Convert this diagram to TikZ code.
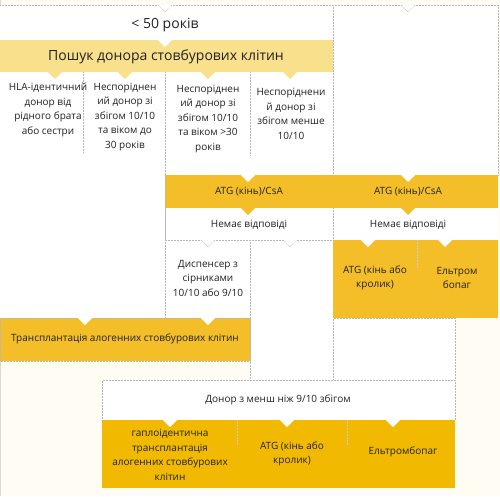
\documentclass[tikz,border=0pt]{standalone}
\usepackage{fontspec}
\setmainfont{Open Sans}
\usepackage{tikz}
\definecolor{paleGold}{RGB}{249, 224, 140}
\definecolor{midGold}{RGB}{243, 190, 40}
\definecolor{deepGold}{RGB}{241, 186, 0}
\definecolor{creamBg}{RGB}{255, 252, 243}
\definecolor{inkGray}{RGB}{34, 34, 34}

\begin{document}
\begin{tikzpicture}[x=1pt,y=-1pt,
    sep/.style={draw=black!28, densely dotted, line width=0.5pt},
    lbl/.style={font=\fontsize{10}{14.5}\selectfont, align=center, text=inkGray, inner sep=0pt},
    big/.style={font=\fontsize{14}{16}\selectfont, text=inkGray, inner sep=0pt}]
    \fill[creamBg] (0,0) rectangle (500,496);
    \useasboundingbox (0,0) rectangle (500,496);
    \draw[black!15, line width=1pt] (0.5,0) -- (0.5,496);
    \foreach \xa/\ya/\xb/\yb in {0/5/333/40, 333/5/498/175, 0/72/333/175, 0/175/165/318,
        165/208/498/240, 165/240/250/318, 250/240/333/380, 333/318/455/380, 102/380/455/420} {
       \fill[white] (\xa,\ya) rectangle (\xb,\yb);
     }
    \fill[paleGold] (0,40) rectangle (333,72);
    \foreach \xa/\ya/\xb/\yb in {165/175/498/208, 333/240/498/318, 0/318/250/361} {
       \fill[midGold] (\xa,\ya) rectangle (\xb,\yb);
     }
    \fill[deepGold] (102,420) rectangle (455,488);
    \draw[sep] (0,5) -- (498,5) -- (498,175);
    \draw[sep] (333,5) -- (333,175) (333,208) -- (333,240);
    \draw[sep] (165,72) -- (165,318) (83,72) -- (83,152) (250,72) -- (250,155);
    \draw[sep] (165,208) -- (165,240) -- (333,240);
    \draw[sep] (250,240) -- (250,380) -- (455,380) -- (455,318) -- (333,318) -- (333,380);
    \draw[sep] (0,318) rectangle (250,361);
    \draw[sep] (102,420) -- (102,380) -- (250,380) (455,380) -- (455,420);
    \draw[sep, draw=black!20] (417,240) -- (417,268) (237,420) -- (237,445) (347,420) -- (347,445);
    \foreach \x/\y in {165/5, 408/5, 208/240, 290/240} {
       \fill[white] (\x-7,\y-0.5) -- (\x,\y+6.5) -- (\x+7,\y-0.5) -- cycle;
       \draw[sep] (\x-7,\y) -- (\x,\y+7) -- (\x+7,\y);
     }
    \foreach \x/\y in {165/40, 248/175, 408/175, 368/240, 445/240, 85/318, 208/318, 170/420, 287/420, 393/420} {
       \fill[white] (\x-7,\y) -- (\x,\y+7) -- (\x+7,\y) -- cycle;
     }
    \foreach \x in {55,125,208,290} {
       \fill[paleGold] (\x-7,72) -- (\x,79) -- (\x+7,72) -- cycle;
     }
    \foreach \x in {248,408} {
       \fill[midGold] (\x-7,208) -- (\x,215) -- (\x+7,208) -- cycle;
     }
    \node[big] (young) at (165,25) {< 50 років};
    \node[big] (search) at (166,57) {Пошук донора стовбурових клітин};
    \node[lbl] (sibling) at (48,110) {HLA-ідентичний\\донор від\\рідного брата\\або сестри};
    \node[lbl] (unrelYoung) at (125,117) {Неспоріднен\\ий донор зі\\збігом 10/10\\та віком до\\30 років};
    \node[lbl] (unrelOld) at (208,119) {Неспоріднен\\ий донор зі\\збігом 10/10\\та віком >30\\років};
    \node[lbl] (unrelLess) at (291,114) {Неспоріднени\\й донор зі\\збігом менше\\10/10};
    \node[lbl] (atgLeft) at (249,192) {ATG (кінь)/CsA};
    \node[lbl] (atgRight) at (408,192) {ATG (кінь)/CsA};
    \node[lbl] (noRespLeft) at (249,225) {Немає відповіді};
    \node[lbl] (noRespRight) at (408,225) {Немає відповіді};
    \node[lbl] (dispenser) at (208,278) {Диспенсер з\\сірниками\\10/10 або 9/10};
    \node[lbl] (atgHorse) at (375,278) {ATG (кінь або\\кролик)};
    \node[lbl] (eltromSplit) at (457,278) {Ельтром\\бопаг};
    \node[lbl] (transplant) at (125,339) {Трансплантація алогенних стовбурових клітин};
    \node[lbl] (donorLess) at (278,400) {Донор з менш ніж 9/10 збігом};
    \node[lbl] (haplo) at (170,455) {гаплоідентична\\трансплантація\\алогенних стовбурових\\клітин};
    \node[lbl] (atgBottom) at (292,454) {ATG (кінь або\\кролик)};
    \node[lbl] (eltrombopag) at (403,452) {Ельтромбопаг};
\end{tikzpicture}
\end{document}
